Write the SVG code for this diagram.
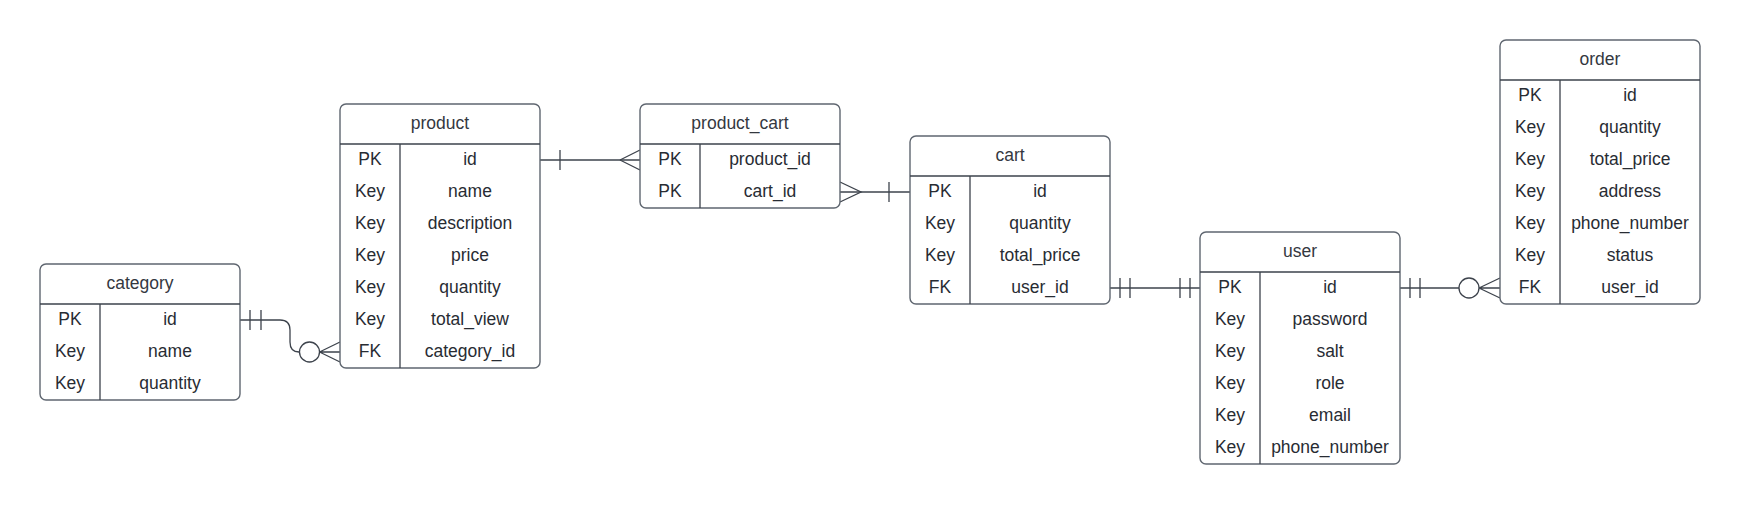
<svg xmlns="http://www.w3.org/2000/svg" width="1740" height="505" viewBox="0 0 1740 505">
<style>
.box{fill:#ffffff;stroke:#5f6670;stroke-width:1.4}
.sep{stroke:#3d434c;stroke-width:1.3;fill:none}
.t{font-family:"Liberation Sans",Arial,sans-serif;font-size:17.5px;fill:#282c33;text-anchor:middle}
.h{fill:#34383f}
.c{stroke:#3d434c;stroke-width:1.3;fill:none}
.o{stroke:#3d434c;stroke-width:1.3;fill:#ffffff}
</style>
<rect width="1740" height="505" fill="#ffffff"/>
<g id="connectors">
  <path class="c" d="M240,320 H280 Q290,320 290,330 V342 Q290,352 299,352"/>
  <path class="c" d="M250,310 V330 M261,310 V330"/>
  <circle class="o" cx="309.5" cy="352" r="10"/>
  <path class="c" d="M319.5,352 H340 M319.5,352 L340,342 M319.5,352 L340,362"/>
  <path class="c" d="M540,160 H640"/>
  <path class="c" d="M560,150 V170"/>
  <path class="c" d="M620,160 L640,150 M620,160 L640,170"/>
  <path class="c" d="M840,192 H910"/>
  <path class="c" d="M840,182 L861,192 L840,202"/>
  <path class="c" d="M889,182 V202"/>
  <path class="c" d="M1110,288 H1200"/>
  <path class="c" d="M1120,278 V298 M1130,278 V298 M1180,278 V298 M1190,278 V298"/>
  <path class="c" d="M1400,288 H1459"/>
  <path class="c" d="M1410,278 V298 M1420,278 V298"/>
  <circle class="o" cx="1469" cy="288" r="10"/>
  <path class="c" d="M1479,288 H1500 M1479,288 L1500,278 M1479,288 L1500,298"/>
</g>
<g id="category" transform="translate(0,-1.5)">
  <rect class="box" x="40" y="265.5" width="200" height="136" rx="6"/>
  <path class="sep" d="M40,305.5 H240 M100,305.5 V401.5"/>
  <text class="t h" x="140" y="290">category</text>
  <text class="t" x="70" y="326">PK</text><text class="t" x="170" y="326">id</text>
  <text class="t" x="70" y="358">Key</text><text class="t" x="170" y="358">name</text>
  <text class="t" x="70" y="390">Key</text><text class="t" x="170" y="390">quantity</text>
</g>
<g id="product">
  <rect class="box" x="340" y="104" width="200" height="264" rx="6"/>
  <path class="sep" d="M340,144 H540 M400,144 V368"/>
  <text class="t h" x="440" y="128.5">product</text>
  <text class="t" x="370" y="164.5">PK</text><text class="t" x="470" y="164.5">id</text>
  <text class="t" x="370" y="196.5">Key</text><text class="t" x="470" y="196.5">name</text>
  <text class="t" x="370" y="228.5">Key</text><text class="t" x="470" y="228.5">description</text>
  <text class="t" x="370" y="260.5">Key</text><text class="t" x="470" y="260.5">price</text>
  <text class="t" x="370" y="292.5">Key</text><text class="t" x="470" y="292.5">quantity</text>
  <text class="t" x="370" y="324.5">Key</text><text class="t" x="470" y="324.5">total_view</text>
  <text class="t" x="370" y="356.5">FK</text><text class="t" x="470" y="356.5">category_id</text>
</g>
<g id="product_cart">
  <rect class="box" x="640" y="104" width="200" height="104" rx="6"/>
  <path class="sep" d="M640,144 H840 M700,144 V208"/>
  <text class="t h" x="740" y="128.5">product_cart</text>
  <text class="t" x="670" y="164.5">PK</text><text class="t" x="770" y="164.5">product_id</text>
  <text class="t" x="670" y="196.5">PK</text><text class="t" x="770" y="196.5">cart_id</text>
</g>
<g id="cart">
  <rect class="box" x="910" y="136" width="200" height="168" rx="6"/>
  <path class="sep" d="M910,176 H1110 M970,176 V304"/>
  <text class="t h" x="1010" y="160.5">cart</text>
  <text class="t" x="940" y="196.5">PK</text><text class="t" x="1040" y="196.5">id</text>
  <text class="t" x="940" y="228.5">Key</text><text class="t" x="1040" y="228.5">quantity</text>
  <text class="t" x="940" y="260.5">Key</text><text class="t" x="1040" y="260.5">total_price</text>
  <text class="t" x="940" y="292.5">FK</text><text class="t" x="1040" y="292.5">user_id</text>
</g>
<g id="user">
  <rect class="box" x="1200" y="232" width="200" height="232" rx="6"/>
  <path class="sep" d="M1200,272 H1400 M1260,272 V464"/>
  <text class="t h" x="1300" y="256.5">user</text>
  <text class="t" x="1230" y="292.5">PK</text><text class="t" x="1330" y="292.5">id</text>
  <text class="t" x="1230" y="324.5">Key</text><text class="t" x="1330" y="324.5">password</text>
  <text class="t" x="1230" y="356.5">Key</text><text class="t" x="1330" y="356.5">salt</text>
  <text class="t" x="1230" y="388.5">Key</text><text class="t" x="1330" y="388.5">role</text>
  <text class="t" x="1230" y="420.5">Key</text><text class="t" x="1330" y="420.5">email</text>
  <text class="t" x="1230" y="452.5">Key</text><text class="t" x="1330" y="452.5">phone_number</text>
</g>
<g id="order">
  <rect class="box" x="1500" y="40" width="200" height="264" rx="6"/>
  <path class="sep" d="M1500,80 H1700 M1560,80 V304"/>
  <text class="t h" x="1600" y="64.5">order</text>
  <text class="t" x="1530" y="100.5">PK</text><text class="t" x="1630" y="100.5">id</text>
  <text class="t" x="1530" y="132.5">Key</text><text class="t" x="1630" y="132.5">quantity</text>
  <text class="t" x="1530" y="164.5">Key</text><text class="t" x="1630" y="164.5">total_price</text>
  <text class="t" x="1530" y="196.5">Key</text><text class="t" x="1630" y="196.5">address</text>
  <text class="t" x="1530" y="228.5">Key</text><text class="t" x="1630" y="228.5">phone_number</text>
  <text class="t" x="1530" y="260.5">Key</text><text class="t" x="1630" y="260.5">status</text>
  <text class="t" x="1530" y="292.5">FK</text><text class="t" x="1630" y="292.5">user_id</text>
</g>
</svg>
